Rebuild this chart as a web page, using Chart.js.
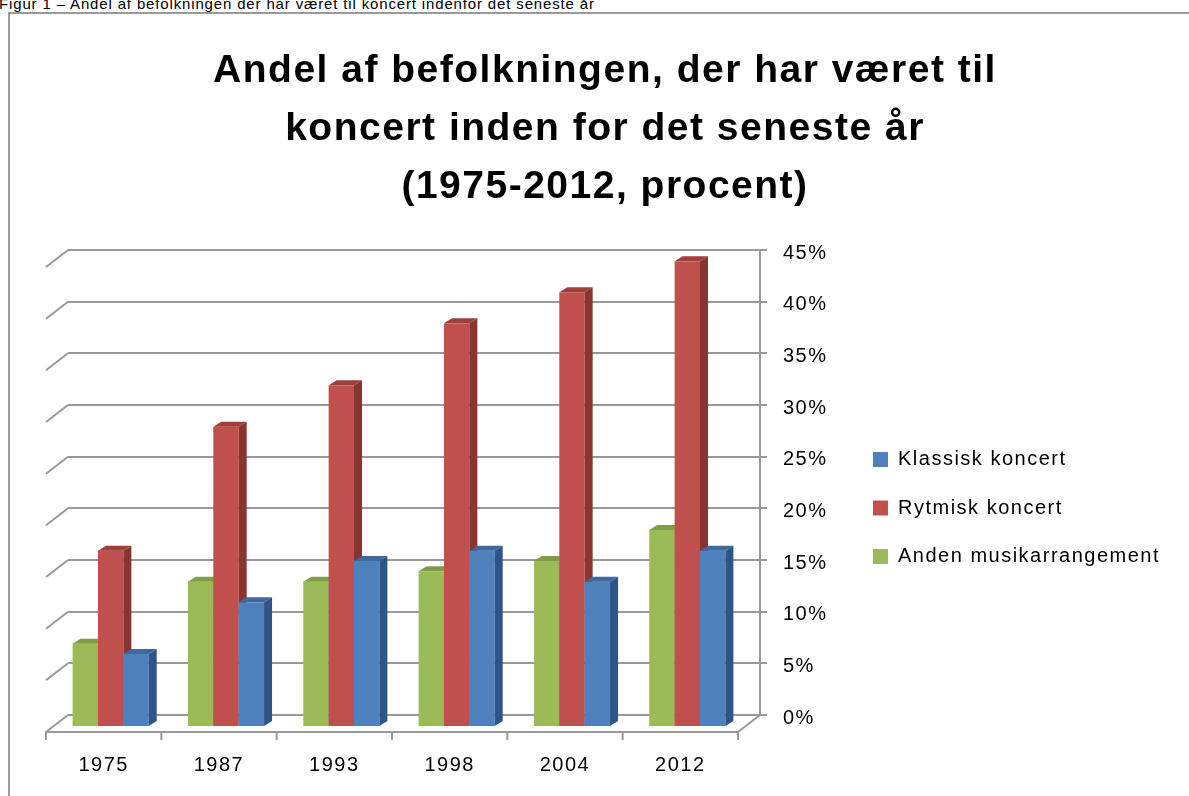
<!DOCTYPE html>
<html>
<head>
<meta charset="utf-8">
<script src="https://cdn.jsdelivr.net/npm/chart.js@4/dist/chart.umd.min.js"></script>
<style>
html, body { margin: 0; padding: 0; background: #fff; overflow: hidden; }
#cap { position: absolute; left: -1px; top: -4px; font: 15px 'Liberation Sans', Arial, sans-serif; letter-spacing: 0.85px; line-height: 16px; white-space: nowrap; color: #000; }
#box { position: absolute; left: 8px; top: 12px; width: 1300px; height: 900px; border: 2px solid #9a9a9a; }
#wrap { position: absolute; left: 0; top: 0; width: 1189px; height: 796px; }
</style>
</head>
<body>
<div id="cap">Figur 1 – Andel af befolkningen der har været til koncert indenfor det seneste år</div>
<div id="box"></div>
<div id="wrap"><canvas id="c" width="1189" height="796"></canvas></div>
<script>
const years     = ["1975", "1987", "1993", "1998", "2004", "2012"];
const anden     = [7, 13, 13, 14, 15, 18];
const rytmisk   = [16, 28, 32, 38, 41, 44];
const klassisk  = [6, 11, 15, 16, 13, 16];
const titleText = ["Andel af befolkningen, der har været til", "koncert inden for det seneste år", "(1975-2012, procent)"];

const FONT      = "'Liberation Sans', Arial, sans-serif";
const gridColor = "#999999";

// front / top / side colours for the 3D columns
const faces = [
    {front: "#9bbb59", top: "#7f9c47", side: "#6f8a3c"},
    {front: "#c0504d", top: "#a03e3b", side: "#8a3432"},
    {front: "#4f81bd", top: "#3d69a0", side: "#2f5487"}
];

function line(ctx, x1, y1, x2, y2){
    ctx.beginPath();
    ctx.moveTo(x1, y1);
    ctx.lineTo(x2, y2);
    ctx.stroke();
}

const spacing = {
    id: "spacing",
    beforeUpdate(chart){ chart.ctx.letterSpacing = "1.5px"; },
    beforeDraw(chart){ chart.ctx.letterSpacing = "1.5px"; }
};

const bars3d = {
    id: "bars3d",
    beforeDatasetsDraw(chart){
        const ctx  = chart.ctx;
        const area = chart.chartArea;
        const ys   = chart.scales.y;
        const n    = years.length;
        const fdx  = -22, fdy = 17;   // floor depth (back wall -> front edge)
        ctx.save();
        ctx.strokeStyle = gridColor;
        ctx.lineWidth   = 2;
        for (let t of ys.ticks){
            let py = ys.getPixelForValue(t.value);
            line(ctx, area.left + fdx, py + fdy, area.left, py);
        }
        let fy = area.bottom + fdy;
        line(ctx, area.left + fdx, fy, area.right + fdx, fy);
        line(ctx, area.right, area.bottom, area.right + fdx, fy);
        let step = (area.right - area.left) / n;
        for (let i = 0; i <= n; i++){
            let tx = area.left + fdx + i * step;
            line(ctx, tx, fy - 1, tx, fy + 8);
        }

        const bdx = 8, bdy = -5;
        for (let i = 0; i < n; i++){
            for (let d = 0; d < chart.data.datasets.length; d++){
                let el = chart.getDatasetMeta(d).data[i];
                let w  = el.width;
                let l  = el.x - w / 2 - 15;
                let r  = l + w;
                let t  = el.y + 1;
                let b  = el.base + 11;
                let f  = faces[d];
                ctx.fillStyle = f.front;
                ctx.fillRect(l, t, w, b - t);
                ctx.fillStyle = f.top;
                ctx.beginPath();
                ctx.moveTo(l, t); ctx.lineTo(l + bdx, t + bdy);
                ctx.lineTo(r + bdx, t + bdy); ctx.lineTo(r, t);
                ctx.closePath(); ctx.fill();
                ctx.fillStyle = f.side;
                ctx.beginPath();
                ctx.moveTo(r, t); ctx.lineTo(r + bdx, t + bdy);
                ctx.lineTo(r + bdx, b + bdy); ctx.lineTo(r, b);
                ctx.closePath(); ctx.fill();
            }
        }
        ctx.restore();
        return false;
    }
};

const ctx = document.getElementById("c").getContext("2d");
const myChart = new Chart(ctx, {
    type: "bar",
    data: {
        labels: years,
        datasets: [
            {label: "Anden musikarrangement", data: anden,    backgroundColor: faces[0].front, borderWidth: 0},
            {label: "Rytmisk koncert",        data: rytmisk,  backgroundColor: faces[1].front, borderWidth: 0},
            {label: "Klassisk koncert",       data: klassisk, backgroundColor: faces[2].front, borderWidth: 0}
        ]
    },
    options: {
        responsive: false,
        animation: false,
        devicePixelRatio: 1,
        layout: { padding: {left: 40, right: 19, top: 0, bottom: 0} },
        categoryPercentage: 0.66,
        barPercentage: 1,
        scales: {
            yl: {
                position: "left",
                display: true,
                grid: {display: false},
                border: {display: false},
                ticks: {display: false},
                afterFit(s){ s.width = 28; }
            },
            x: {
                grid: {display: false, drawTicks: false},
                border: {display: false},
                ticks: {
                    color: "#000",
                    font: {family: FONT, size: 20},
                    padding: 38,
                    labelOffset: -22,
                    maxRotation: 0
                },
                afterFit(s){ s.height = 81; }
            },
            y: {
                position: "right",
                min: 0,
                max: 45,
                ticks: {
                    stepSize: 5,
                    color: "#000",
                    font: {family: FONT, size: 20},
                    padding: 16,
                    labelOffset: 3,
                    callback: v => v + "%"
                },
                grid: {color: gridColor, lineWidth: 2, tickLength: 7},
                border: {display: true, color: gridColor, width: 2},
                afterFit(s){ s.width = 84.5; }
            }
        },
        plugins: {
            title: {
                display: true,
                text: titleText,
                color: "#000",
                font: {family: FONT, size: 39, weight: "bold", lineHeight: "58px"},
                padding: {top: 42, bottom: 34}
            },
            legend: {
                position: "right",
                fullSize: false,
                reverse: true,
                maxWidth: 400,
                title: {display: true, text: "", padding: 0, font: {size: 42.5, lineHeight: 1.2}},
                labels: {
                    color: "#000",
                    font: {family: FONT, size: 20},
                    boxWidth: 15,
                    boxHeight: 15,
                    padding: 28.5
                }
            },
            tooltip: {enabled: false}
        }
    },
    plugins: [spacing, bars3d]
});
</script>
</body>
</html>
